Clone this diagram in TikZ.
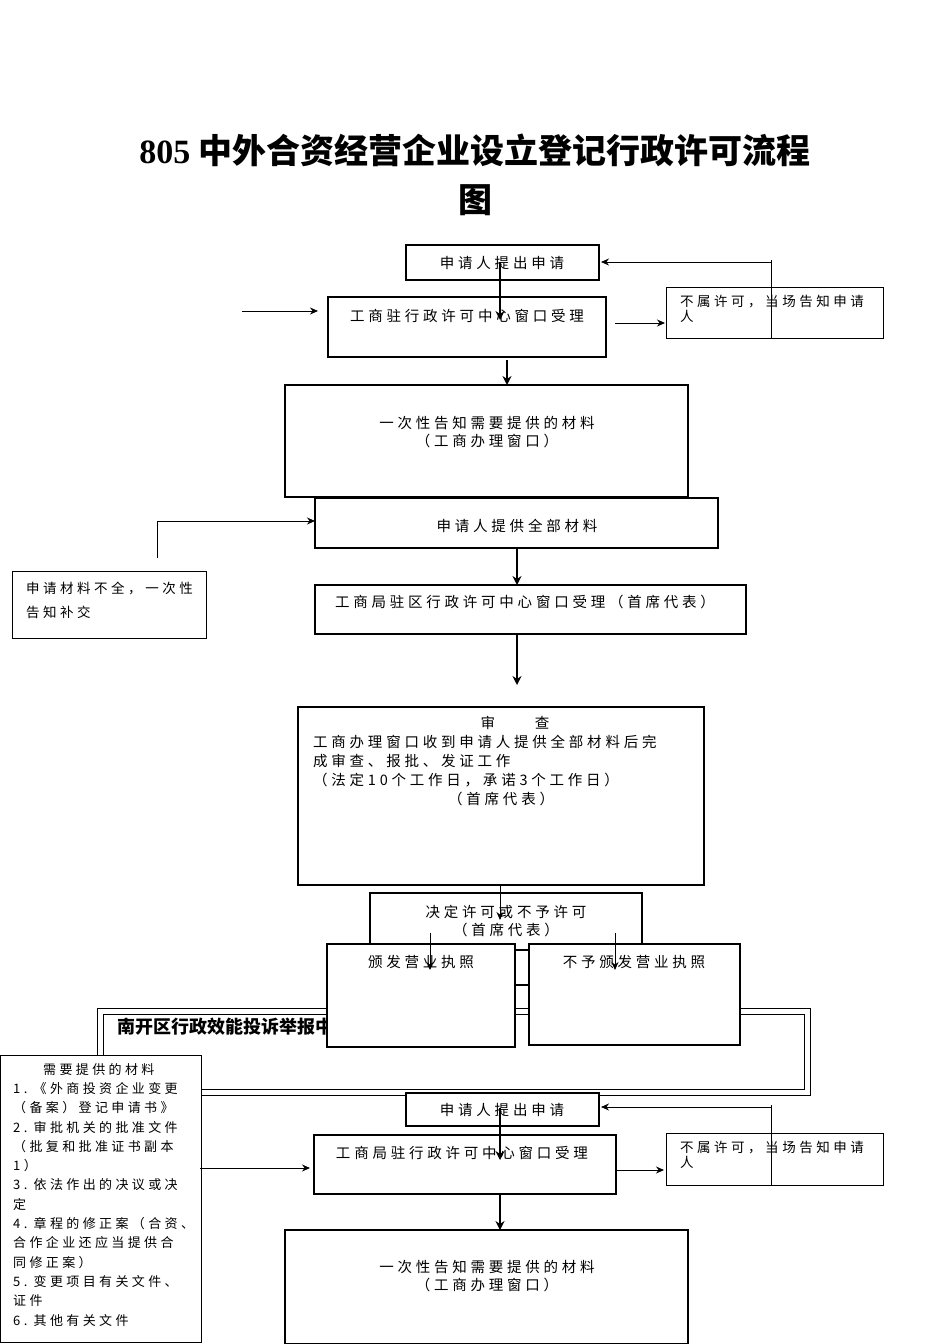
\documentclass[tikz,border=0pt]{standalone}
\usepackage{fontspec}
\setmainfont{Liberation Serif}
\newfontfamily\cjk[LetterSpace=26]{Noto Sans CJK SC}
\newfontfamily\cjkt{Noto Sans CJK SC}
\usetikzlibrary{arrows.meta}
\begin{document}
\begin{tikzpicture}[x=1pt,y=-1pt,
  tk/.style={draw,line width=2.6pt,fill=white},
  tn/.style={draw,line width=0.7pt,fill=white},
  t/.style={font=\cjk\fontsize{14.5}{18}\selectfont,inner sep=0pt},
  ar/.style={-{Stealth[length=8pt,width=7pt]},line width=0.9pt},
  ak/.style={-{Stealth[length=9pt,width=9pt]},line width=2.6pt}]
\useasboundingbox (0,0) rectangle (950,1344);
\node[font=\bfseries\fontsize{34}{38}\selectfont] (ti) at (475,150) {805 {\cjkt 中外合资经营企业设立登记行政许可流程}};
\node[font=\cjkt\bfseries\fontsize{34}{38}\selectfont] (ti2) at (475,200) {图};
% top section
\draw[tn] (666,287) rectangle (883,338);
\node[t,align=left,anchor=north west,font=\cjk\fontsize{13.5}{15}\selectfont] (nr1) at (680,295) {不属许可，当场告知申请\\人};
\draw[line width=0.7pt] (771,260) -- (771,338);
\draw[tk] (406,245) rectangle (599,280); \node[t] (a) at (502,263) {申请人提出申请};
\coordinate (ra) at (601,262); \coordinate (rs) at (771,262);
\draw[ar] (rs) -- (ra);
\draw[tk] (328,297) rectangle (606,357); \node[t] (b) at (467,316) {工商驻行政许可中心窗口受理};
\coordinate (a1) at (500,262); \coordinate (a2) at (500,320);
\draw[ak] (a1) -- (a2);
\coordinate (l1) at (242,311); \coordinate (l2) at (318,311);
\draw[ar] (l1) -- (l2);
\coordinate (r1) at (615,323); \coordinate (r2) at (665,323);
\draw[ar] (r1) -- (r2);
\coordinate (c1) at (507,360); \coordinate (c2) at (507,385);
\draw[ak] (c1) -- (c2);
\draw[tk] (285,385) rectangle (688,497);
\node[t,align=center] (c) at (487,432) {一次性告知需要提供的材料\\（工商办理窗口）};
\draw[tk] (315,498) rectangle (718,548); \node[t] (d) at (517,526) {申请人提供全部材料};
\draw[ar] (157,558) -- (157,521) -- (315,521);
\draw[tn] (12,571) rectangle (206,638);
\node[t,align=left,anchor=north west,font=\cjk\fontsize{13.5}{24}\selectfont] (e) at (26,582) {申请材料不全，一次性\\告知补交};
\coordinate (d1) at (517,548); \coordinate (d2) at (517,585);
\draw[ak] (d1) -- (d2);
\draw[tk] (315,585) rectangle (746,634); \node[t] (f) at (525,602) {工商局驻区行政许可中心窗口受理（首席代表）};
\coordinate (f1) at (517,634); \coordinate (f2) at (517,685);
\draw[ak] (f1) -- (f2);
\draw[tk] (298,707) rectangle (704,885);
\node[t] (g0) at (515,723) {审\hspace{40pt}查};
\node[t,align=left,anchor=north west,font=\cjk\fontsize{14.5}{19}\selectfont] (g) at (313,735) {工商办理窗口收到申请人提供全部材料后完\\成审查、报批、发证工作\\（法定10个工作日，承诺3个工作日）\\\hspace*{135pt}（首席代表）};
\draw[tk] (370,893) rectangle (642,950);
\node[t,align=center] (h) at (506,921) {决定许可或不予许可\\（首席代表）};
\coordinate (h1) at (500,885); \coordinate (h2) at (500,920);
\draw[ar] (h1) -- (h2);
% complaint box
\draw[line width=0.8pt] (97,1008) rectangle (810,1095);
\draw[line width=0.8pt] (103,1014) rectangle (804,1089);
\node[font=\cjkt\bfseries\fontsize{18}{20}\selectfont,anchor=west] (k) at (114,1027) {南开区行政效能投诉举报中心};
\draw[line width=2.6pt] (515,985) -- (529,985);
\draw[tk] (327,944) rectangle (515,1047); \node[t] (i) at (421,962) {颁发营业执照};
\draw[tk] (529,944) rectangle (740,1045); \node[t] (j) at (634,962) {不予颁发营业执照};
\coordinate (i1) at (430,933); \coordinate (i2) at (430,970);
\draw[ar] (i1) -- (i2);
\coordinate (j1) at (615,933); \coordinate (j2) at (615,970);
\draw[ar] (j1) -- (j2);
% bottom section
\draw[tn] (666,1133) rectangle (883,1185);
\node[t,align=left,anchor=north west,font=\cjk\fontsize{13.5}{15}\selectfont] (nr2) at (680,1141) {不属许可，当场告知申请\\人};
\draw[line width=0.7pt] (771,1105) -- (771,1185);
\draw[tk] (406,1093) rectangle (599,1126); \node[t] (m) at (502,1110) {申请人提出申请};
\coordinate (rm) at (601,1107); \coordinate (rs2) at (771,1107);
\draw[ar] (rs2) -- (rm);
\draw[tk] (314,1135) rectangle (616,1194); \node[t] (n) at (462,1153) {工商局驻行政许可中心窗口受理};
\coordinate (m1) at (500,1108); \coordinate (m2) at (500,1160);
\draw[ak] (m1) -- (m2);
\draw[tn] (0,1055) rectangle (201,1342);
\node[t,align=left,anchor=north west,font=\cjk\fontsize{13}{19.3}\selectfont] (l) at (13,1063) {\hspace*{30pt}需要提供的材料\\1.\ 《外商投资企业变更\\（备案）登记申请书》\\2.\ 审批机关的批准文件\\（批复和批准证书副本\\1）\\3.\ 依法作出的决议或决\\定\\4.\ 章程的修正案（合资、\\合作企业还应当提供合\\同修正案）\\5.\ 变更项目有关文件、\\证件\\6.\ 其他有关文件};
\coordinate (n1) at (200,1168); \coordinate (n2) at (310,1168);
\draw[ar] (n1) -- (n2);
\coordinate (o1) at (616,1170); \coordinate (o2) at (664,1170);
\draw[ar] (o1) -- (o2);
\coordinate (p1) at (500,1194); \coordinate (p2) at (500,1230);
\draw[ak] (p1) -- (p2);
\draw[tk] (285,1230) rectangle (688,1344);
\node[t,align=center] (o) at (487,1276) {一次性告知需要提供的材料\\（工商办理窗口）};
\end{tikzpicture}
\end{document}
